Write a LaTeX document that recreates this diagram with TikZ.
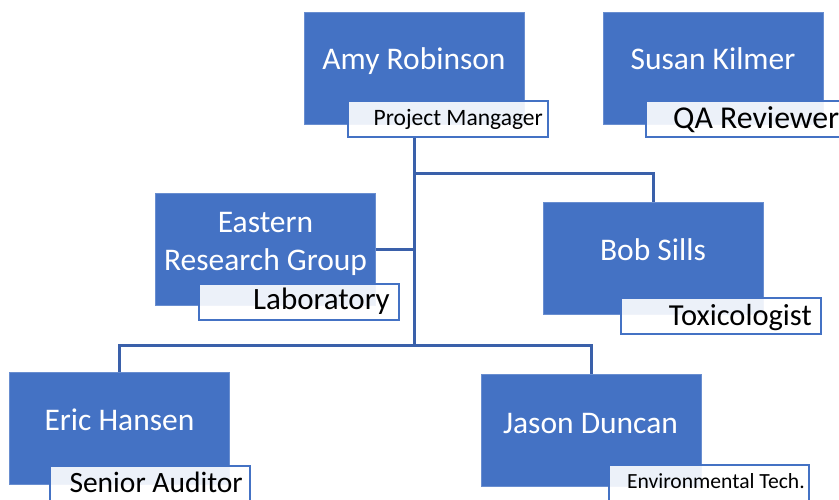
\documentclass[tikz,border=0pt]{standalone}
\usepackage{fontspec}
\setmainfont{Carlito}
\definecolor{boxblue}{HTML}{4472C4}
\definecolor{lineblue}{HTML}{3A60AA}
\begin{document}
\begin{tikzpicture}[x=1pt,y=-1pt,
  person/.style={fill=boxblue, draw=boxblue!80!white, line width=0.6pt,
    minimum width=220pt, minimum height=112pt, inner sep=0pt, outer sep=0pt},
  role/.style={fill=white, fill opacity=0.9, draw=boxblue, line width=2pt,
    minimum width=200pt, minimum height=36pt, inner sep=0pt},
  nametext/.style={text=white, anchor=base, inner sep=0pt,
    font=\fontsize{31.5}{38}\selectfont},
  roletext/.style={text=black, anchor=base east, inner sep=0pt},
  conn/.style={draw=lineblue, line width=3pt}]
\useasboundingbox[fill=white] (0,0) rectangle (839,500);
\clip (0,0) rectangle (839,500);

% connectors
\coordinate (bus) at (414,345);
\coordinate (bobjoin) at (414,174);

% people boxes
\node[person] (amy) at (414,68) {};
\node[person] (susan) at (713,68) {};
\node[person] (eastern) at (265.5,249.5) {};
\node[person] (bob) at (653,258.5) {};
\node[person] (eric) at (119.5,428) {};
\node[person] (jason) at (591.5,430) {};

\draw[conn] (eastern.east) -- (eastern.east -| bus);
\draw[conn] (bobjoin) -| (bob.north);
\draw[conn] (eric.north) |- (bus) -| (jason.north);

% role boxes
\node[role] (amyL) at (448,119) {};
\node[role] (susanL) at (746,119.5) {};
\node[role] (easternL) at (299,301.5) {};
\node[role] (bobL) at (720.5,315.5) {};
\node[role] (ericL) at (150,484) {};
\node[role] (jasonL) at (709,483) {};

\draw[conn] (amyL.south -| amy.south) -- (bus);

% names
\node[nametext] (amyT) at (414,70) {Amy Robinson};
\node[nametext] (susanT) at (713,70) {Susan Kilmer};
\node[nametext] (easternT1) at (265.5,233) {Eastern};
\node[nametext] (easternT2) at (265.5,270) {Research Group};
\node[nametext] (bobT) at (653,261) {Bob Sills};
\node[nametext] (ericT) at (119.5,430) {Eric Hansen};
\node[nametext] (jasonT) at (590.5,433) {Jason Duncan};

% roles
\node[roletext, font=\fontsize{23.5}{28}\selectfont] (amyR) at (543,126) {Project Mangager};
\node[roletext, anchor=base west, font=\fontsize{31.8}{37}\selectfont] (susanR) at (673,129) {QA Reviewer};
\node[roletext, font=\fontsize{31}{37}\selectfont] (easternR) at (390,309) {Laboratory};
\node[roletext, font=\fontsize{30.5}{37}\selectfont] (bobR) at (812,325) {Toxicologist};
\node[roletext, font=\fontsize{29.5}{35}\selectfont] (ericR) at (243,492) {Senior Auditor};
\node[roletext, font=\fontsize{21.6}{25}\selectfont] (jasonR) at (805,488) {Environmental Tech.};
\end{tikzpicture}
\end{document}
